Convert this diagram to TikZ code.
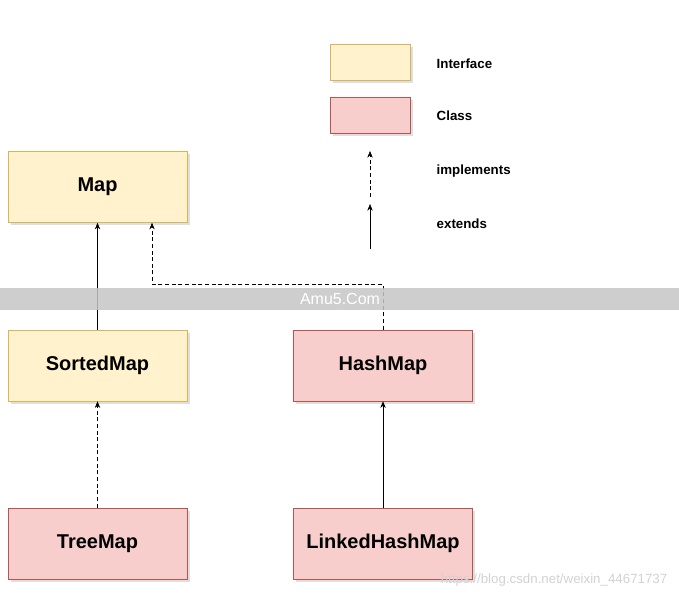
\documentclass[tikz,border=0pt]{standalone}
\usepackage{fontspec}
\setmainfont{Liberation Sans}
\usetikzlibrary{positioning,arrows.meta,shadows}
\definecolor{ifill}{HTML}{FFF2CC}
\definecolor{idraw}{HTML}{D6B656}
\definecolor{cfill}{HTML}{F8CECC}
\definecolor{cdraw}{HTML}{B85450}
\begin{document}
\begin{tikzpicture}[x=0.0264cm,y=-0.0264cm,
  iface/.style={draw=idraw,fill=ifill,minimum width=179*0.0264cm,minimum height=71*0.0264cm,font=\bfseries\fontsize{15}{18}\selectfont,drop shadow={opacity=0.25,shadow xshift=2pt,shadow yshift=-2pt}},
  cls/.style={draw=cdraw,fill=cfill,minimum width=179*0.0264cm,minimum height=71*0.0264cm,font=\bfseries\fontsize{15}{18}\selectfont,drop shadow={opacity=0.25,shadow xshift=2pt,shadow yshift=-2pt}},
  legend/.style={anchor=west,font=\bfseries\normalsize},
  ext/.style={-{Stealth[length=5pt,width=4pt]},thin},
  impl/.style={-{Stealth[length=5pt,width=4pt]},thin,densely dashed}]
\useasboundingbox (0,0) rectangle (679,599);
% boxes
\node[iface] (map) at (97.5,187) {Map};
\node[iface] (sorted) at (97.5,365.5) {SortedMap};
\node[cls] (hash) at (383,365.5) {HashMap};
\node[cls] (tree) at (97.5,543.5) {TreeMap};
\node[cls] (linked) at (383,543.5) {LinkedHashMap};
% legend
\node[draw=idraw,fill=ifill,minimum width=80*0.0264cm,minimum height=36*0.0264cm,drop shadow={opacity=0.25,shadow xshift=2pt,shadow yshift=-2pt}] (li) at (370,62) {};
\node[draw=cdraw,fill=cfill,minimum width=80*0.0264cm,minimum height=36*0.0264cm,drop shadow={opacity=0.25,shadow xshift=2pt,shadow yshift=-2pt}] (lc) at (370,115.5) {};
\node[legend] (tli) at (432,64) {Interface};
\node[legend] (tlc) at (432,116) {Class};
\node[legend] (tim) at (432,171) {implements};
\node[legend] (tex) at (432,224) {extends};
\coordinate (ia) at (370,197);
\coordinate (ib) at (370,151);
\coordinate (ea) at (370,249);
\coordinate (eb) at (370,204);
\draw[impl] (ia) -- (ib);
\draw[ext] (ea) -- (eb);
% connectors
\draw[ext] (sorted) -- (map);
\draw[ext] (linked) -- (hash);
\draw[impl] (tree) -- (sorted);
\coordinate (bend) at (152,284);
\draw[impl] (hash.north) |- (bend) -- (bend |- map.south);
% watermark band
\fill[gray!45,opacity=0.85] (0,288) rectangle (679,310);
\node[text=white,font=\large] (wm) at (340,299) {Amu5.Com};
\node[text=gray!35,font=\normalsize,anchor=east] (url) at (672,580) {https://blog.csdn.net/weixin\_44671737};
\end{tikzpicture}
\end{document}
